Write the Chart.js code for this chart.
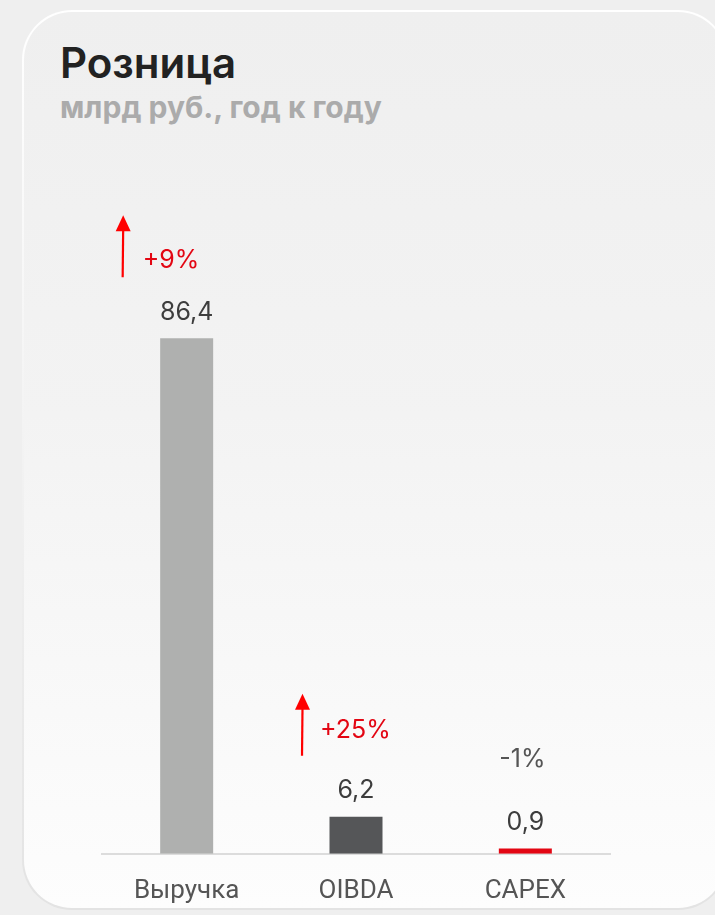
<!DOCTYPE html>
<html>
<head>
<meta charset="utf-8">
<script src="https://cdn.jsdelivr.net/npm/chart.js@4.4.1/dist/chart.umd.min.js"></script>
<style>
  html, body { margin:0; padding:0; width:715px; height:915px; overflow:hidden; background:#efefef; }
  #cardBorder { position:absolute; left:22px; top:10px; width:706px; height:900px; border-radius:50px;
    background:linear-gradient(to bottom, #ffffff 0%, #f2f2f2 50%, #e3e3e3 100%); }
  #card { position:absolute; left:2px; top:2px; right:2px; bottom:2px; border-radius:48px;
    background:linear-gradient(to bottom, #efefef 0%, #f3f3f3 45%, #fdfdfd 100%); }
  #title { position:absolute; left:60px; top:42px; font-family:Inter, Roboto, sans-serif; font-weight:600; font-size:42px; line-height:1; color:#222; }
  #subtitle { position:absolute; left:60px; top:92px; font-family:Inter, Roboto, sans-serif; font-weight:700; font-size:30px; line-height:1; color:#ababab; }
  #wrap { position:absolute; left:0; top:0; width:715px; height:929px; }
</style>
</head>
<body>
<div id="cardBorder"><div id="card"></div></div>
<div id="title">Розница</div>
<div id="subtitle">млрд руб., год к году</div>
<div id="wrap"><canvas id="c" width="715" height="929"></canvas></div>
<script>
// ---- data ----
const categories = ['Выручка', 'OIBDA', 'CAPEX'];
const values = [86.4, 6.2, 0.9];
const valueLabels = ['86,4', '6,2', '0,9'];
const changeLabels = ['+9%', '+25%', '-1%'];
const changeUp = [true, true, false];
// ---- style ----
const barColors = ['#afb0af', '#555658', '#e30613'];
const changeColors = ['#e30613', '#e30613', '#555555'];
// annotation layout offsets (px relative to bar centre / top)
const changeDx = [-44, -36, 0];
const changeDy = [-78, -86, -89];
const arrowDx = [-64, -54, 0];

const annotations = {
  id: 'annotations',
  afterDatasetsDraw(chart) {
    const ctx = chart.ctx;
    const xs = chart.scales.x, ys = chart.scales.y;
    ctx.save();
    values.forEach((v, i) => {
      const cx = xs.getPixelForValue(i);
      const top = ys.getPixelForValue(v);
      ctx.font = '400 25px Inter, "Noto Sans", sans-serif';
      ctx.fillStyle = '#3d3d3d';
      ctx.textAlign = 'center';
      ctx.textBaseline = 'middle';
      ctx.fillText(valueLabels[i], cx, top - 26);
      ctx.fillStyle = changeColors[i];
      if (changeUp[i]) {
        ctx.textAlign = 'left';
        ctx.fillText(changeLabels[i], cx + changeDx[i], top + changeDy[i]);
        const ax = cx + arrowDx[i];
        const yb = top - 61, yt = top - 123;
        ctx.strokeStyle = '#ff0000';
        ctx.fillStyle = '#ff0000';
        ctx.lineWidth = 2.2;
        ctx.beginPath();
        ctx.moveTo(ax, yb);
        ctx.lineTo(ax + 0.5, yt + 14);
        ctx.stroke();
        ctx.beginPath();
        ctx.moveTo(ax + 0.5, yt);
        ctx.lineTo(ax - 7, yt + 16);
        ctx.lineTo(ax + 8, yt + 16);
        ctx.closePath();
        ctx.fill();
      } else {
        ctx.textAlign = 'center';
        ctx.fillText(changeLabels[i], cx + changeDx[i] - 3, top + changeDy[i]);
      }
    });
    ctx.restore();
  }
};

new Chart(document.getElementById('c'), {
  type: 'bar',
  data: {
    labels: categories,
    datasets: [{
      data: values,
      backgroundColor: barColors,
      borderWidth: 0,
      categoryPercentage: 1,
      barPercentage: 0.313
    }]
  },
  options: {
    responsive: false,
    animation: false,
    devicePixelRatio: 1,
    layout: { padding: { left: 102, right: 105, top: 257, bottom: 0 } },
    plugins: { legend: { display: false }, tooltip: { enabled: false } },
    scales: {
      y: { display: false, min: 0, max: 100 },
      x: {
        grid: { display: true, color: 'rgba(0,0,0,0)', drawTicks: false },
        border: { display: true, color: '#dcdcdc', width: 2 },
        ticks: { color: '#555555', font: { family: 'Roboto', size: 26 }, padding: 22 }
      }
    }
  },
  plugins: [annotations]
});
</script>
</body>
</html>
